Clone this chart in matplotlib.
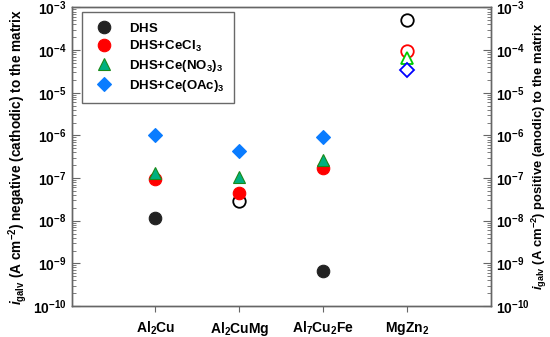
import matplotlib
matplotlib.use('Agg')
import matplotlib.pyplot as plt
from matplotlib.ticker import FixedLocator, LogLocator, FuncFormatter, NullFormatter
import numpy as np

plt.rcParams['font.family'] = ['Liberation Sans', 'DejaVu Sans']
plt.rcParams['mathtext.fontset'] = 'custom'
plt.rcParams['mathtext.rm'] = 'Liberation Sans'
plt.rcParams['mathtext.it'] = 'Liberation Sans:italic:bold'
plt.rcParams['mathtext.bf'] = 'Liberation Sans:bold'

# Phases (x categories)
phases = [r'$\mathbf{Al_2Cu}$', r'$\mathbf{Al_2CuMg}$', r'$\mathbf{Al_7Cu_2Fe}$', r'$\mathbf{MgZn_2}$']

# Galvanic current magnitudes (A cm^-2), one list per solution
dhs = [1.15e-8, 2.9e-8, 6.6e-10, 5.0e-4]
dhs_cecl3 = [9.6e-8, 4.5e-8, 1.75e-7, 9.4e-5]
dhs_cenO3 = [1.3e-7, 1.05e-7, 2.7e-7, 6.6e-5]
dhs_ceoac = [1.0e-6, 4.4e-7, 9.0e-7, 3.5e-5]

# True where the current is positive (anodic) -> hollow marker
dhs_anodic = [False, True, False, True]
cecl3_anodic = [False, False, False, True]
cenO3_anodic = [False, False, False, True]
ceoac_anodic = [False, False, False, True]

series = [
    (r'$\mathbf{DHS}$', dhs, dhs_anodic, 'o', '#222222', '#222222', 'black', 9),
    (r'$\mathbf{DHS{+}CeCl_3}$', dhs_cecl3, cecl3_anodic, 'o', '#ff0000', '#ff0000', '#ff0000', 9),
    (r'$\mathbf{DHS{+}Ce(NO_3)_3}$', dhs_cenO3, cenO3_anodic, '^', '#00b080', '#1a8a1a', '#00cc00', 9),
    (r'$\mathbf{DHS{+}Ce(OAc)_3}$', dhs_ceoac, ceoac_anodic, 'D', '#0a7cff', '#0a7cff', '#0000ff', 7.5),
]

fig, ax = plt.subplots(figsize=(5.5, 3.37), dpi=100)
fig.subplots_adjust(left=0.13, right=0.893, top=0.978, bottom=0.092)

x = np.arange(1, len(phases) + 1)
for label, vals, anodic, mk, fc, ec, hollow_c, ms in series:
    vals = np.array(vals)
    anodic = np.array(anodic)
    ax.plot(x[~anodic], vals[~anodic], linestyle='none', marker=mk, markersize=ms,
            markerfacecolor=fc, markeredgecolor=ec, markeredgewidth=0.8, label=label)
    ax.plot(x[anodic], vals[anodic], linestyle='none', marker=mk, markersize=ms,
            markerfacecolor='white', markeredgecolor=hollow_c, markeredgewidth=1.3)

ax.set_yscale('log')
ax.set_ylim(1e-10, 1e-3)
ax.set_xlim(0, 5)
ax.set_xticks(x)
ax.set_xticklabels(phases, fontsize=10)
ax.tick_params(axis='x', direction='out', length=4, color='#666666', pad=6)

fmt = FuncFormatter(lambda v, p: r'$\mathbf{10^{%d}}$' % round(np.log10(v)))
for a in (ax, ax.twinx()):
    a.set_yscale('log')
    a.set_ylim(1e-10, 1e-3)
    a.yaxis.set_major_locator(FixedLocator([10.0 ** k for k in range(-10, -2)]))
    a.yaxis.set_major_formatter(fmt)
    a.yaxis.set_minor_locator(LogLocator(base=10, subs=np.arange(2, 10), numticks=20))
    a.yaxis.set_minor_formatter(NullFormatter())
    a.tick_params(axis='y', which='both', direction='in', color='#666666', labelsize=10)
    a.tick_params(axis='y', which='major', length=6)
    a.tick_params(axis='y', which='minor', length=3)
    for s in a.spines.values():
        s.set_color('#666666')
        s.set_linewidth(1.0)
    ax2 = a

ax.set_ylabel(r'$\mathit{i}_{\mathbf{galv}}$ (A cm$^{\mathbf{-2}}$) negative (cathodic) to the matrix',
              fontsize=9.8, fontweight='bold', labelpad=3)
ax2.set_ylabel(r'$\mathit{i}_{\mathbf{galv}}$ (A cm$^{\mathbf{-2}}$) positive (anodic) to the matrix',
               fontsize=9.4, fontweight='bold', labelpad=0)

leg = ax.legend(loc='upper left', bbox_to_anchor=(0.024, 0.983), borderaxespad=0,
                frameon=True, fancybox=False, edgecolor='#444444', fontsize=9.5,
                handletextpad=0.9, borderpad=0.7, labelspacing=0.3, numpoints=1)
leg.get_frame().set_linewidth(1.0)

fig.savefig('out.png', dpi=100)
